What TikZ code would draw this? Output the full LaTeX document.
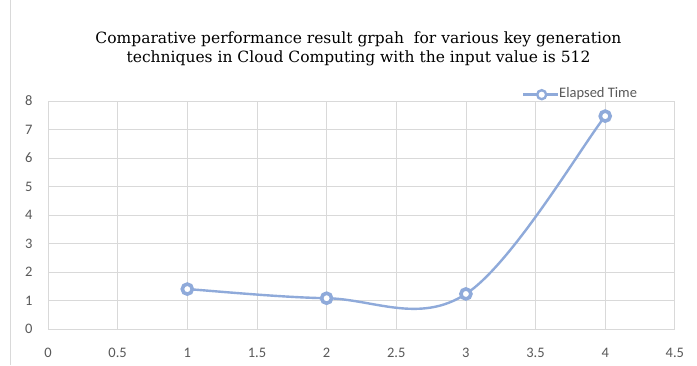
\documentclass[tikz,border=0pt]{standalone}
\usepackage{fontspec}
\setmainfont{DejaVu Serif}
\newfontfamily\axisfont{Carlito}
\definecolor{series}{RGB}{143,170,218}
\definecolor{gridc}{RGB}{217,217,217}
\definecolor{labc}{RGB}{89,89,89}
\begin{document}
\begin{tikzpicture}[x=1pt,y=1pt,
  gridline/.style={draw=gridc,line width=0.8pt},
  ticklab/.style={font=\axisfont\fontsize{14.5}{16}\selectfont,text=labc,inner sep=0pt},
  seriesline/.style={draw=series,line width=2.4pt},
  marker/.style={circle,draw=series,fill=white,line width=3.6pt,minimum size=10pt,inner sep=0pt}]
\useasboundingbox (0,0) rectangle (697,365);
\fill[white] (0,0) rectangle (697,365);
\draw[draw=gridc,line width=1pt] (10,0) -- (10,365);
% title
\node[align=center,font=\fontsize{15.5}{19.5}\selectfont,inner sep=0pt,text=black] (titletext) at (358.5,316)
 {Comparative performance result grpah\ \ for various key generation\\techniques in Cloud Computing with the input value is 512};
% plot area
\begin{scope}[shift={(48,36)},x=139.3pt,y=28.5pt]
  \foreach \y in {0,...,8} {\draw[gridline] (0,\y) -- (4.5,\y);
     \node[ticklab] (yl\y) at (-0.137,\y) {\y};}
  \foreach \x in {0.5,1,...,4.5} {\draw[gridline] (\x,0) -- (\x,8);}
  \draw[gridline] (0,0) -- (0,8);
  \foreach \x/\n in {0/a,0.5/b,1/c,1.5/d,2/e,2.5/f,3/g,3.5/h,4/i,4.5/j} {\node[ticklab] (xl\n) at (\x,-0.83) {\x};}
  \coordinate (c1) at (1,1.40);
  \coordinate (c2) at (2,1.08);
  \coordinate (c3) at (3,1.23);
  \coordinate (c4) at (4,7.47);
  \draw[seriesline] (c1) .. controls (1.1667,1.3467) and (1.6667,1.1083) .. (c2)
     .. controls (2.3333,1.0517) and (2.6667,0.165) .. (c3)
     .. controls (3.3333,2.295) and (3.8333,6.43) .. (c4);
  \node[marker] (p1) at (c1) {};
  \node[marker] (p2) at (c2) {};
  \node[marker] (p3) at (c3) {};
  \node[marker] (p4) at (c4) {};
\end{scope}
% legend
\coordinate (la) at (523,270.3);
\coordinate (lb) at (558,270.3);
\draw[seriesline] (la) -- (lb);
\node[marker,minimum size=9pt,line width=2.4pt] (lm) at (541.7,270.3) {};
\node[ticklab,anchor=west] (legend) at (559,271) {Elapsed Time};
\end{tikzpicture}
\end{document}
